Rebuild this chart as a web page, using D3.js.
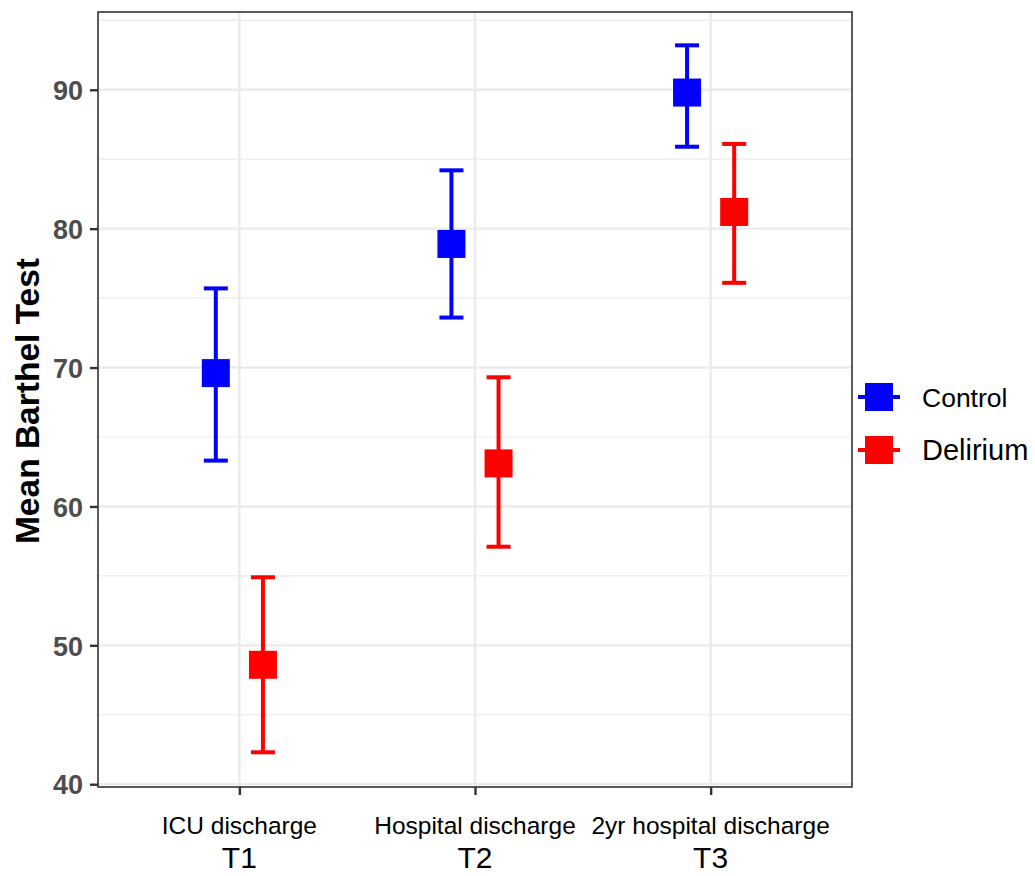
<!DOCTYPE html>
<html>
<head>
<meta charset="utf-8">
<script src="https://cdn.jsdelivr.net/npm/d3@7"></script>
<style>
  body { margin: 0; background: #fff; }
  svg { font-family: "Liberation Sans", Arial, sans-serif; }
</style>
</head>
<body>
<svg id="chart" width="1035" height="876"></svg>
<script>
// data
var TIMES = ["T1", "T2", "T3"];
var TIME_LABELS = ["ICU discharge", "Hospital discharge", "2yr hospital discharge"];
var GROUPS = ["Control", "Delirium"];
var COLORS = ["#0000ff", "#ff0000"];
var CONTROL_MEAN = [69.6, 78.9, 89.8];
var CONTROL_LOW = [63.3, 73.6, 85.9];
var CONTROL_HIGH = [75.7, 84.2, 93.2];
var DELIRIUM_MEAN = [48.6, 63.1, 81.2];
var DELIRIUM_LOW = [42.3, 57.1, 76.1];
var DELIRIUM_HIGH = [54.9, 69.3, 86.1];
var Y_TICKS = [40, 50, 60, 70, 80, 90];
var Y_MINOR = [45, 55, 65, 75, 85, 95];

var PANEL = { left: 98, top: 12, right: 852, bottom: 787 };
var DODGE = 0.1;

var rows = [];
TIMES.forEach(function (t, i) {
    rows.push({ time: i + 1, group: 0, mean: CONTROL_MEAN[i], lo: CONTROL_LOW[i], hi: CONTROL_HIGH[i] });
    rows.push({ time: i + 1, group: 1, mean: DELIRIUM_MEAN[i], lo: DELIRIUM_LOW[i], hi: DELIRIUM_HIGH[i] });
});

var xScale = d3.scaleLinear()
    .domain([0.4, 3.6])
    .range([PANEL.left, PANEL.right]);

var yScale = d3.scaleLinear()
    .domain([39.8, 95.6])
    .range([PANEL.bottom, PANEL.top]);

var svg = d3.select("#chart");

// minor grid
svg.append("g").selectAll("line")
    .data(Y_MINOR)
    .enter().append("line")
    .attr("x1", PANEL.left).attr("x2", PANEL.right)
    .attr("y1", d => yScale(d)).attr("y2", d => yScale(d))
    .attr("stroke", "#ebebeb").attr("stroke-width", 1.2);

// major grid
svg.append("g").selectAll("line")
    .data(Y_TICKS)
    .enter().append("line")
    .attr("x1", PANEL.left).attr("x2", PANEL.right)
    .attr("y1", d => yScale(d)).attr("y2", d => yScale(d))
    .attr("stroke", "#ebebeb").attr("stroke-width", 2.4);

svg.append("g").selectAll("line")
    .data([1, 2, 3])
    .enter().append("line")
    .attr("x1", d => xScale(d)).attr("x2", d => xScale(d))
    .attr("y1", PANEL.top).attr("y2", PANEL.bottom)
    .attr("stroke", "#ebebeb").attr("stroke-width", 2.4);

// error bars
var bars = svg.append("g").selectAll("g")
    .data(rows)
    .enter().append("g")
    .attr("stroke", d => COLORS[d.group])
    .attr("stroke-width", 4);

bars.append("line")
    .attr("x1", d => xScale(d.time + (d.group ? DODGE : -DODGE)))
    .attr("x2", d => xScale(d.time + (d.group ? DODGE : -DODGE)))
    .attr("y1", d => yScale(d.lo)).attr("y2", d => yScale(d.hi));

["lo", "hi"].forEach(function (k) {
    bars.append("line")
        .attr("x1", d => xScale(d.time + (d.group ? DODGE : -DODGE)) - 12)
        .attr("x2", d => xScale(d.time + (d.group ? DODGE : -DODGE)) + 12)
        .attr("y1", d => yScale(d[k])).attr("y2", d => yScale(d[k]));
});

// square points
svg.append("g").selectAll("rect")
    .data(rows)
    .enter().append("rect")
    .attr("x", d => xScale(d.time + (d.group ? DODGE : -DODGE)) - 14)
    .attr("y", d => yScale(d.mean) - 14)
    .attr("width", 28).attr("height", 28)
    .attr("fill", d => COLORS[d.group]);

// panel border
svg.append("rect")
    .attr("x", PANEL.left).attr("y", PANEL.top)
    .attr("width", PANEL.right - PANEL.left).attr("height", PANEL.bottom - PANEL.top)
    .attr("fill", "none").attr("stroke", "#333").attr("stroke-width", 1.6);

// y axis
var yAxis = svg.append("g")
    .attr("transform", `translate(${PANEL.left}, 0)`)
    .call(d3.axisLeft(yScale).tickValues(Y_TICKS).tickSize(8).tickPadding(7));
yAxis.select(".domain").remove();
yAxis.selectAll(".tick line").attr("stroke", "#333").attr("stroke-width", 2.4);
yAxis.selectAll(".tick text")
    .attr("fill", "#4d4d4d")
    .style("font-size", "27px")
    .style("font-weight", "bold")
    .attr("dy", "0.36em");

// x axis
var xAxis = svg.append("g")
    .attr("transform", `translate(0, ${PANEL.bottom})`)
    .call(d3.axisBottom(xScale).tickValues([1, 2, 3]).tickSize(8).tickFormat(""));
xAxis.select(".domain").remove();
xAxis.selectAll(".tick line").attr("stroke", "#333").attr("stroke-width", 2.4);

var xl = svg.append("g").selectAll("text")
    .data(TIMES)
    .enter().append("text")
    .attr("text-anchor", "middle")
    .attr("fill", "#000");
xl.append("tspan")
    .attr("x", (d, i) => xScale(i + 1))
    .attr("y", 834)
    .style("font-size", "24.5px")
    .text((d, i) => TIME_LABELS[i]);
xl.append("tspan")
    .attr("x", (d, i) => xScale(i + 1))
    .attr("y", 868)
    .style("font-size", "30px")
    .text(d => d);

// y title
svg.append("text")
    .attr("transform", "translate(39, 401) rotate(-90)")
    .attr("text-anchor", "middle")
    .style("font-size", "33.5px")
    .style("font-weight", "bold")
    .attr("fill", "#000")
    .text("Mean Barthel Test");

// legend
var legend = svg.append("g").selectAll("g")
    .data(GROUPS)
    .enter().append("g")
    .attr("transform", (d, i) => `translate(879, ${397 + i * 53})`);
legend.append("line")
    .attr("x1", -21).attr("x2", 21)
    .attr("stroke", (d, i) => COLORS[i]).attr("stroke-width", 4);
legend.append("rect")
    .attr("x", -14).attr("y", -14).attr("width", 28).attr("height", 28)
    .attr("fill", (d, i) => COLORS[i]);
legend.append("text")
    .attr("x", 43).attr("dy", "0.36em")
    .style("font-size", (d, i) => i ? "29px" : "26.5px")
    .attr("fill", "#000")
    .text(d => d);
</script>
</body>
</html>
